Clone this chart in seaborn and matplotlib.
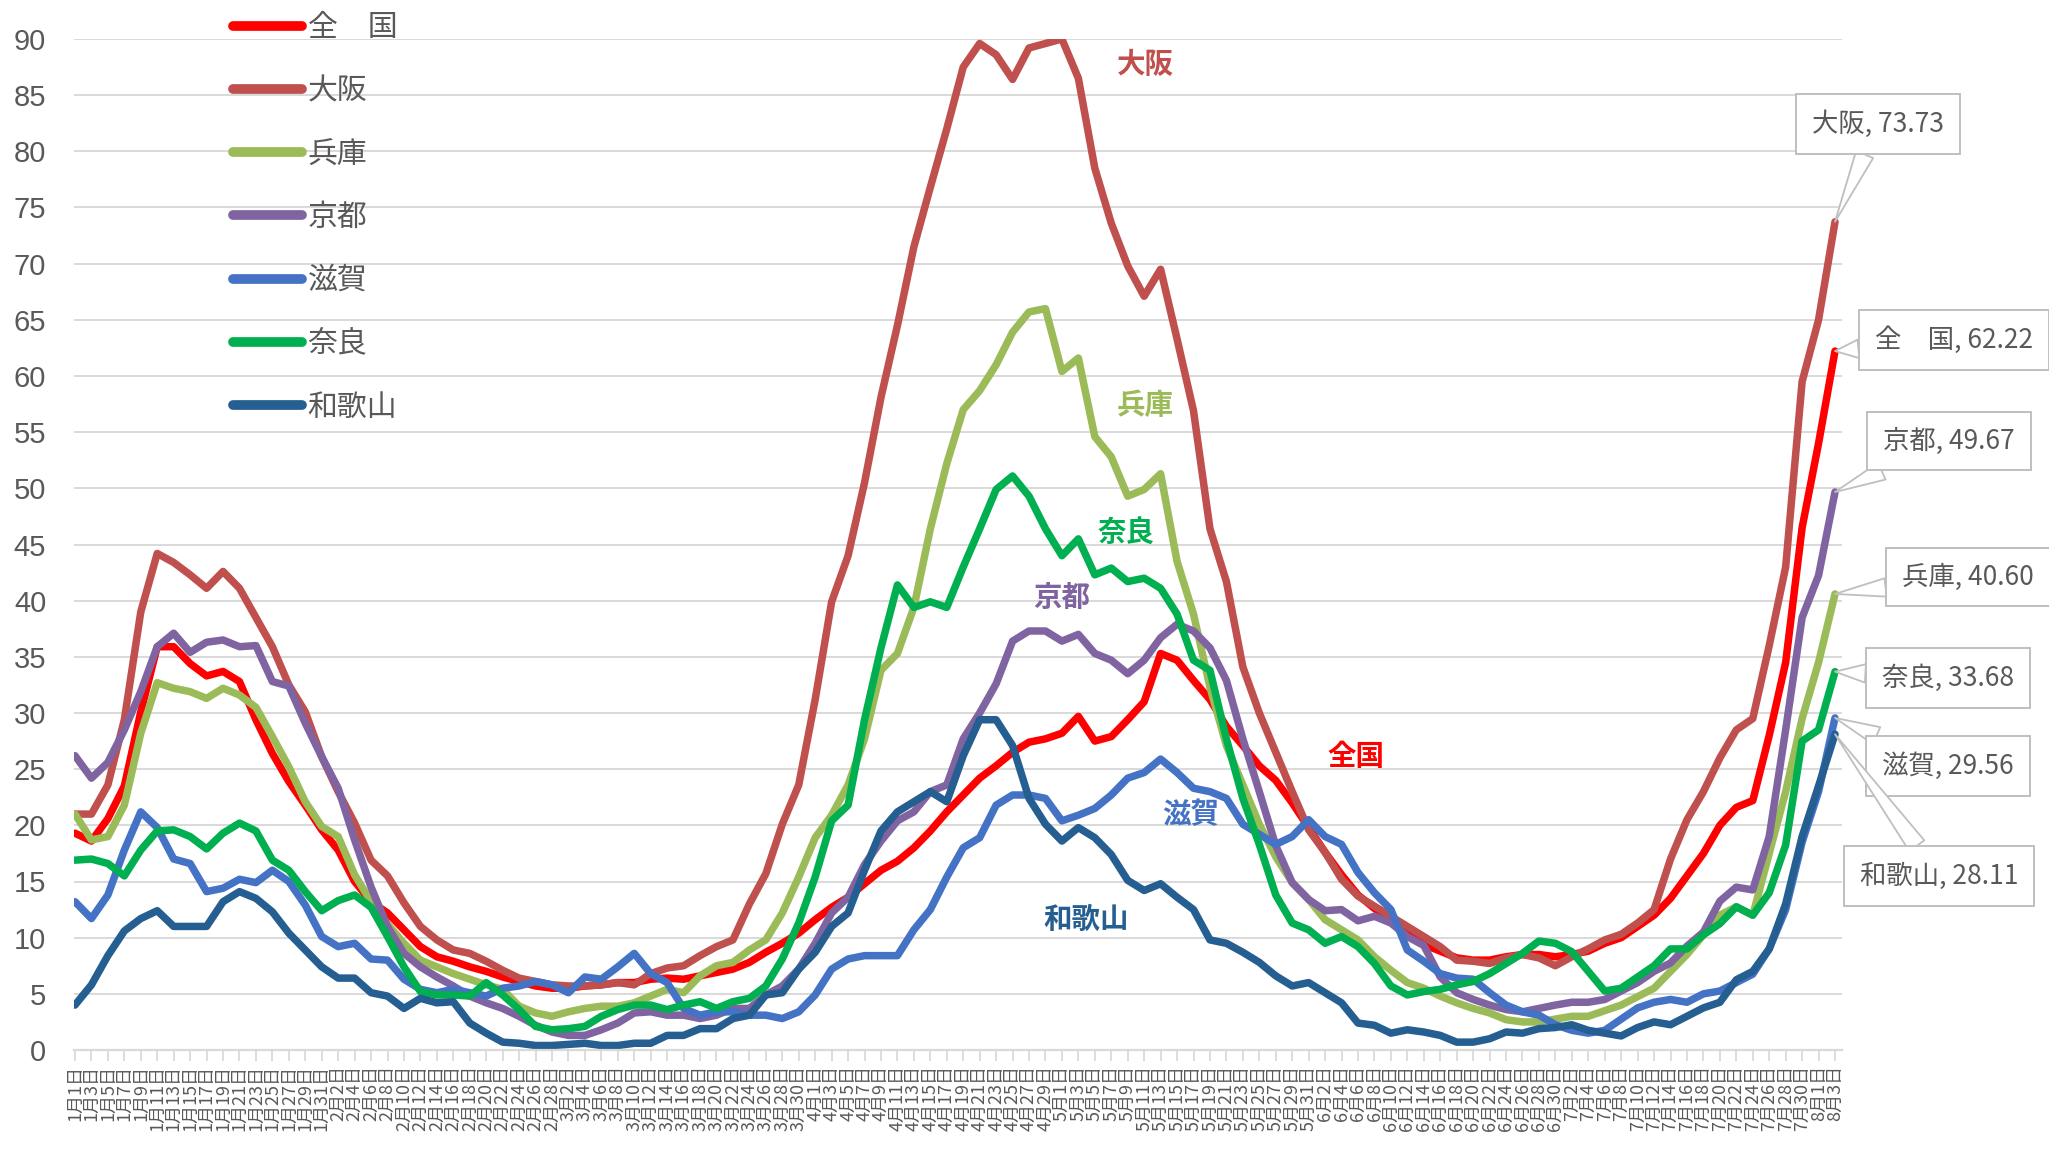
# libraries
import numpy as np
import pandas as pd
import matplotlib
matplotlib.use("Agg")
import matplotlib.pyplot as plt
import seaborn as sns

# ==========================================
# Data: every other day, 1/1 - 8/3
# ==========================================
dates = pd.date_range("2021-01-01", "2021-08-03", freq="2D")
day_index = (dates - dates[0]).days
date_labels = [f"{d.month}月{d.day}日" for d in dates]

zenkoku = [19.3, 18.6, 20.6, 23.5, 30.1, 35.9, 35.9, 34.4, 33.3, 33.7, 32.8, 29.4, 26.4, 23.9, 21.8, 19.6, 17.8, 15.0, 13.2,
           12.2, 10.7, 9.2, 8.3, 7.9, 7.4, 7.0, 6.5, 6.1, 5.7, 5.5, 5.5, 5.7, 5.8, 6.0, 6.0, 6.3, 6.4,
           6.3, 6.6, 6.9, 7.2, 7.8, 8.7, 9.5, 10.4, 11.6, 12.7, 13.6, 14.8, 16.0, 16.8, 18.0, 19.5, 21.2,
           22.7, 24.2, 25.3, 26.5, 27.4, 27.7, 28.2, 29.7, 27.5, 27.9, 29.4, 31.0, 35.3, 34.7, 32.9, 31.2, 28.8, 27.1, 25.3,
           24.0, 22.0, 19.8, 17.6, 15.6, 13.8, 12.6, 11.5, 10.3, 9.4, 8.8, 8.2, 8.0, 8.0, 8.3, 8.5, 8.5,
           8.3, 8.5, 8.8, 9.5, 10.0, 11.0, 12.0, 13.5, 15.5, 17.5, 20.0, 21.6, 22.2, 28.0, 34.5, 46.5, 54.0, 62.22]

osaka = [21.0, 21.0, 23.6, 29.4, 39.0, 44.2, 43.4, 42.3, 41.1, 42.6, 41.1, 38.5, 35.9, 32.5, 30.1, 26.1, 23.0, 20.2, 16.9,
         15.5, 13.1, 11.0, 9.8, 8.9, 8.6, 7.9, 7.1, 6.4, 6.1, 5.8, 5.7, 5.7, 5.8, 6.0, 5.8, 6.8, 7.3,
         7.5, 8.4, 9.2, 9.8, 13.0, 15.7, 20.1, 23.6, 31.2, 39.9, 44.0, 50.5, 58.1, 64.5, 71.5, 76.8, 82.0,
         87.5, 89.6, 88.6, 86.4, 89.2, 89.6, 90.0, 86.5, 78.5, 73.6, 69.8, 67.1, 69.5, 63.3, 56.9, 46.4, 41.7, 34.1, 30.0,
         26.5, 23.0, 19.6, 17.6, 15.2, 13.7, 12.8, 11.9, 11.0, 10.1, 9.2, 8.0, 7.9, 7.7, 8.2, 8.5, 8.2,
         7.5, 8.3, 9.0, 9.8, 10.3, 11.3, 12.5, 17.0, 20.5, 23.0, 26.0, 28.5, 29.5, 36.0, 43.0, 59.5, 65.0, 73.73]

hyogo = [21.0, 18.7, 19.0, 21.8, 28.2, 32.7, 32.2, 31.9, 31.3, 32.2, 31.6, 30.5, 27.9, 25.2, 22.1, 19.9, 19.0, 15.6, 13.2,
         11.2, 9.5, 8.0, 7.4, 6.8, 6.3, 5.8, 5.4, 3.9, 3.3, 3.0, 3.4, 3.7, 3.9, 3.9, 4.2, 4.8, 5.4,
         5.1, 6.6, 7.5, 7.8, 8.9, 9.8, 12.2, 15.4, 18.9, 20.9, 23.6, 27.7, 33.8, 35.3, 39.4, 46.4, 52.2,
         57.0, 58.7, 61.0, 63.9, 65.7, 66.0, 60.4, 61.6, 54.6, 52.8, 49.3, 49.9, 51.3, 43.5, 38.8, 32.3, 27.1, 23.6, 20.1,
         17.2, 14.9, 13.4, 11.6, 10.7, 9.8, 8.3, 7.1, 6.0, 5.5, 4.8, 4.2, 3.7, 3.3, 2.7, 2.5, 2.5,
         2.75, 3.0, 3.0, 3.5, 4.0, 4.75, 5.5, 7.0, 8.5, 10.25, 12.0, 12.75, 12.0, 17.5, 23.0, 29.5, 34.5, 40.6]

kyoto = [26.2, 24.2, 25.6, 28.5, 31.9, 35.9, 37.1, 35.4, 36.3, 36.5, 35.9, 36.0, 32.8, 32.4, 29.1, 26.1, 23.3, 18.7, 14.5,
         11.0, 8.6, 7.4, 6.5, 5.7, 4.8, 4.2, 3.7, 3.0, 2.2, 1.6, 1.3, 1.3, 1.8, 2.4, 3.3, 3.4, 3.1,
         3.1, 2.8, 3.1, 3.7, 3.7, 4.9, 5.7, 7.2, 9.5, 12.2, 13.6, 16.5, 18.6, 20.4, 21.2, 23.0, 23.6,
         27.7, 30.0, 32.6, 36.4, 37.3, 37.3, 36.4, 37.0, 35.3, 34.7, 33.5, 34.7, 36.7, 37.9, 37.3, 35.8, 32.9, 27.7, 23.0,
         18.2, 14.9, 13.4, 12.4, 12.5, 11.5, 11.9, 11.3, 10.1, 9.3, 6.5, 5.1, 4.5, 4.0, 3.6, 3.4, 3.7,
         4.0, 4.25, 4.25, 4.5, 5.25, 6.0, 7.0, 7.75, 9.25, 10.5, 13.25, 14.5, 14.25, 19.0, 28.5, 38.5, 42.25, 49.67]

shiga = [13.2, 11.7, 13.8, 17.8, 21.2, 19.8, 17.0, 16.6, 14.1, 14.4, 15.2, 14.9, 16.0, 15.0, 12.9, 10.1, 9.2, 9.5, 8.1,
         8.0, 6.3, 5.4, 5.1, 5.4, 5.1, 4.8, 5.5, 5.7, 6.1, 5.8, 5.1, 6.5, 6.3, 7.4, 8.6, 6.8, 6.0,
         3.7, 3.1, 3.4, 3.4, 3.1, 3.1, 2.8, 3.4, 4.9, 7.2, 8.1, 8.4, 8.4, 8.4, 10.7, 12.5, 15.4,
         18.0, 18.9, 21.8, 22.7, 22.7, 22.4, 20.4, 20.9, 21.5, 22.7, 24.2, 24.7, 25.9, 24.7, 23.3, 23.0, 22.4, 20.1, 19.2,
         18.3, 19.0, 20.5, 19.0, 18.3, 15.8, 14.0, 12.5, 8.9, 7.9, 6.8, 6.4, 6.3, 5.1, 4.0, 3.4, 3.1,
         2.25, 1.75, 1.5, 1.75, 2.75, 3.75, 4.25, 4.5, 4.25, 5.0, 5.25, 6.0, 6.75, 9.0, 12.5, 18.5, 23.0, 29.56]

nara = [16.9, 17.0, 16.6, 15.5, 17.8, 19.5, 19.6, 19.0, 17.9, 19.3, 20.2, 19.5, 16.9, 16.0, 14.1, 12.4, 13.3, 13.8, 12.7,
        10.1, 7.4, 5.2, 4.9, 4.9, 4.8, 6.0, 4.9, 3.6, 2.1, 1.8, 1.9, 2.1, 3.0, 3.6, 4.0, 4.0, 3.6,
        4.0, 4.3, 3.7, 4.3, 4.6, 5.7, 8.1, 11.3, 15.4, 20.4, 21.8, 29.4, 35.8, 41.4, 39.4, 39.9, 39.4,
        43.0, 46.4, 49.9, 51.1, 49.3, 46.4, 44.0, 45.5, 42.3, 42.9, 41.7, 42.0, 41.1, 38.8, 34.7, 33.8, 27.7, 22.4, 18.3,
        13.8, 11.3, 10.7, 9.5, 10.1, 9.2, 7.7, 5.7, 4.9, 5.2, 5.4, 5.8, 6.1, 6.8, 7.7, 8.6, 9.7,
        9.5, 8.75, 7.0, 5.25, 5.5, 6.5, 7.5, 9.0, 9.0, 10.25, 11.25, 12.75, 12.0, 14.0, 18.25, 27.5, 28.5, 33.68]

wakayama = [4.0, 5.8, 8.4, 10.6, 11.7, 12.4, 11.0, 11.0, 11.0, 13.2, 14.1, 13.5, 12.3, 10.4, 8.9, 7.4, 6.4, 6.4, 5.1,
            4.8, 3.7, 4.6, 4.2, 4.3, 2.4, 1.5, 0.7, 0.6, 0.4, 0.4, 0.5, 0.6, 0.4, 0.4, 0.6, 0.6, 1.3,
            1.3, 1.9, 1.9, 2.8, 3.1, 4.9, 5.1, 7.2, 8.7, 11.0, 12.2, 16.0, 19.5, 21.2, 22.1, 23.0, 22.1,
            26.2, 29.4, 29.4, 27.1, 22.4, 20.1, 18.6, 19.8, 18.9, 17.4, 15.1, 14.2, 14.8, 13.6, 12.5, 9.8, 9.5, 8.7, 7.8,
            6.6, 5.7, 6.0, 5.1, 4.2, 2.4, 2.2, 1.5, 1.8, 1.6, 1.3, 0.7, 0.7, 1.0, 1.6, 1.5, 1.9,
            2.0, 2.25, 1.75, 1.5, 1.25, 2.0, 2.5, 2.25, 3.0, 3.75, 4.25, 6.25, 7.0, 9.0, 13.0, 19.0, 23.5, 28.11]

names = ["全　国", "大阪", "兵庫", "京都", "滋賀", "奈良", "和歌山"]
series = [zenkoku, osaka, hyogo, kyoto, shiga, nara, wakayama]
colors = ["#FF0000", "#C0504D", "#9BBB59", "#8064A2", "#4472C4", "#00B050", "#255E91"]

# ==========================================
# Style
# ==========================================
sns.set_theme(style="white")
plt.rcParams["font.family"] = ["Noto Sans CJK JP", "DejaVu Sans"]
GRID = "#D9D9D9"
TEXT = "#595959"
W, H = 2049, 1153

fig = plt.figure(figsize=(W / 100, H / 100), dpi=100)
ax = fig.add_axes([74 / W, 103 / H, (1842 - 74) / W, (1050 - 39) / H])

for name, vals, col in zip(names, series, colors):
    assert len(vals) == len(day_index)
    sns.lineplot(x=day_index, y=vals, ax=ax, color=col, linewidth=5.4, label=name,
                 solid_joinstyle="round", solid_capstyle="round")

# axes
ax.set_xlim(-0.12, 214.85)
ax.set_ylim(0, 90)
ax.set_yticks(np.arange(0, 91, 5))
ax.yaxis.grid(True, color=GRID, linewidth=1.4)
ax.xaxis.grid(False)
for s in ["top", "right", "left"]:
    ax.spines[s].set_visible(False)
ax.spines["bottom"].set_color(GRID)
ax.spines["bottom"].set_linewidth(1.6)
ax.tick_params(axis="y", length=0, pad=20, labelsize=21, labelcolor=TEXT)
for t in ax.get_yticklabels():
    t.set_family(["Liberation Sans Narrow", "Liberation Sans", "DejaVu Sans"])
ax.set_xticks(day_index)
ax.set_xticklabels(date_labels, rotation=90, fontsize=13, color=TEXT)
ax.tick_params(axis="x", length=8, width=1.3, color=GRID, direction="out", pad=3, bottom=True)
ax.set_xlabel("")
ax.set_ylabel("")

# legend
leg = ax.legend(loc="upper left", bbox_to_anchor=(233 / W, 1 - 12 / H), bbox_transform=fig.transFigure,
                frameon=False, fontsize=21.5, handlelength=2.3, handletextpad=0.2,
                labelspacing=1.08, borderpad=0, borderaxespad=0)
for line in leg.get_lines():
    line.set_linewidth(7)
    line.set_solid_capstyle("round")
for t in leg.get_texts():
    t.set_color(TEXT)

# in-plot labels
inline = [("大阪", 130.2, 87.7), ("兵庫", 130.1, 57.3), ("奈良", 127.8, 46.0), ("京都", 120.0, 40.2),
          ("全国", 155.8, 26.1), ("滋賀", 135.6, 20.9), ("和歌山", 122.9, 11.6)]
label_color = {"大阪": colors[1], "兵庫": colors[2], "奈良": colors[5], "京都": colors[3],
               "全国": colors[0], "滋賀": colors[4], "和歌山": colors[6]}
for txt, xd, yd in inline:
    ax.text(xd, yd, txt, color=label_color[txt], fontsize=20.5, fontweight="bold",
            ha="center", va="center")

# callouts at the last point (box centres in figure pixels)
callout_pos = {"大阪": (1878, 124), "全　国": (1954, 340), "京都": (1949, 441), "兵庫": (1968, 577),
               "奈良": (1948, 678), "滋賀": (1948, 766), "和歌山": (1939, 876)}
for name, vals in zip(names, series):
    cx, cy = callout_pos[name]
    ax.annotate(f"{name}, {vals[-1]:.2f}", xy=(day_index[-1], vals[-1]), xycoords="data",
                xytext=(cx, H - cy), textcoords="figure pixels",
                ha="center", va="center", fontsize=19, color=TEXT, annotation_clip=False,
                bbox=dict(boxstyle="square,pad=0.6", fc="white", ec="#BFBFBF", lw=1.4),
                arrowprops=dict(arrowstyle="wedge,tail_width=0.7,shrink_factor=0.5",
                                fc="white", ec="#BFBFBF", lw=1.3, shrinkA=0, shrinkB=0))

fig.savefig("out.png", dpi=100)
